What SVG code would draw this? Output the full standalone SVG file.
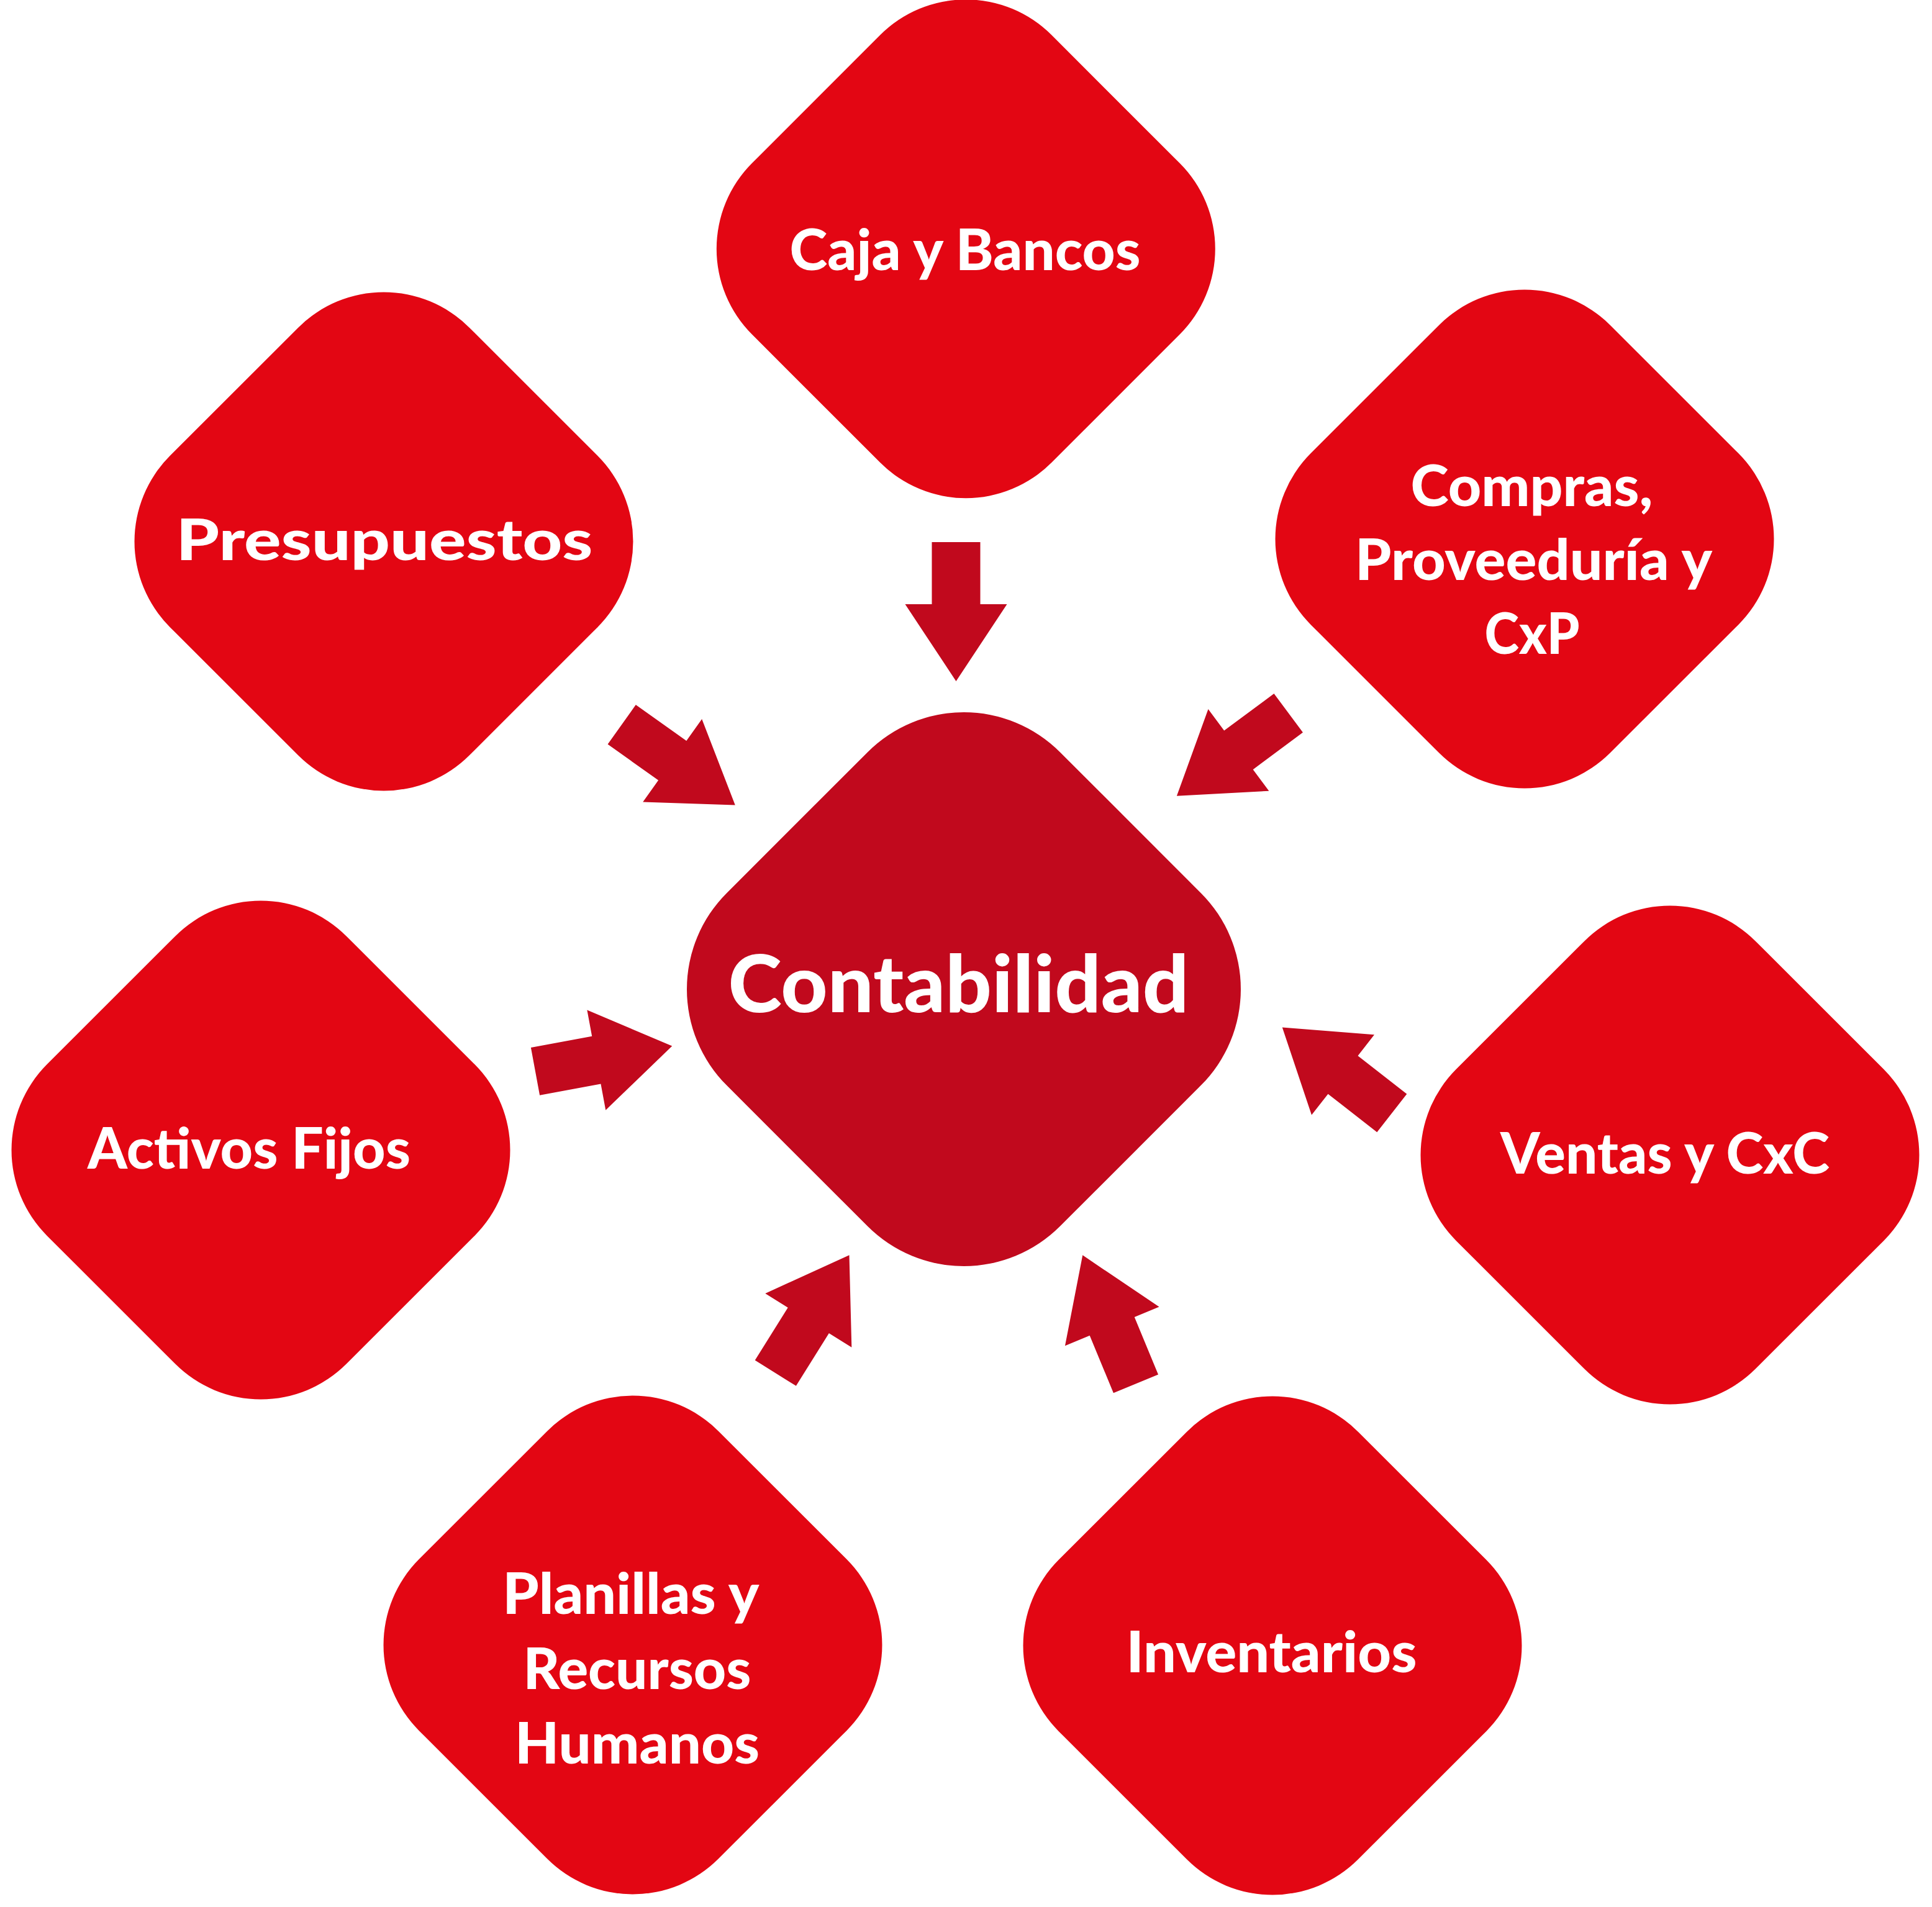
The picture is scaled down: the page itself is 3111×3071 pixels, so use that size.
<svg xmlns="http://www.w3.org/2000/svg" xmlns:xlink="http://www.w3.org/1999/xlink" width="3111" height="3071" viewBox="0 0 3111 3071">
<style>
.node{fill:#E30613;}
.core{fill:#C1091D;}
.arrow{fill:#C1091D;}
.lbl{font-family:Lato,"Open Sans","Liberation Sans",sans-serif;font-weight:900;font-size:92px;fill:#FFFFFF;text-anchor:middle;}
.big{font-size:128px;}
</style>
<defs>
<rect id="dia" x="-341" y="-341" width="682" height="682" rx="195" ry="195"/>
<path id="arr" d="M0,-39 L100,-39 L100,-82 L224,0 L100,82 L100,39 L0,39 Z"/>
</defs>
<rect x="0" y="0" width="3111" height="3071" fill="#FFFFFF"/>
<g id="connectors" class="arrow">
<use xlink:href="#arr" href="#arr" transform="translate(1539.5,873) rotate(90)"/>
<use xlink:href="#arr" href="#arr" transform="translate(1001.2,1166.8) rotate(35.4)"/>
<use xlink:href="#arr" href="#arr" transform="translate(2074.7,1148.3) rotate(143.4)"/>
<use xlink:href="#arr" href="#arr" transform="translate(862,1725.3) rotate(-10.5)"/>
<use xlink:href="#arr" href="#arr" transform="translate(2241.3,1792.5) rotate(-142)"/>
<use xlink:href="#arr" href="#arr" transform="translate(1248.8,2211.2) rotate(-58)"/>
<use xlink:href="#arr" href="#arr" transform="translate(1829,2228.3) rotate(-112.5)"/>
</g>
<g id="contabilidad">
<rect class="core" x="-379.5" y="-379.5" width="759" height="759" rx="219" ry="219" transform="translate(1552,1593) rotate(45)"/>
<text class="lbl big" x="1543.5" y="1630" textLength="742" lengthAdjust="spacingAndGlyphs">Contabilidad</text>
</g>
<g id="caja-bancos">
<use class="node" xlink:href="#dia" href="#dia" transform="translate(1555.3,400.7) rotate(45)"/>
<text class="lbl" x="1554" y="435" textLength="565" lengthAdjust="spacingAndGlyphs">Caja y Bancos</text>
</g>
<g id="presupuestos">
<use class="node" xlink:href="#dia" href="#dia" transform="translate(618,872) rotate(45)"/>
<text class="lbl" x="619" y="902" textLength="671" lengthAdjust="spacingAndGlyphs">Presupuestos</text>
</g>
<g id="compras">
<use class="node" xlink:href="#dia" href="#dia" transform="translate(2455,868) rotate(45)"/>
<text class="lbl" x="2466.5" y="815" textLength="390" lengthAdjust="spacingAndGlyphs">Compras,</text>
<text class="lbl" x="2469.6" y="934" textLength="575" lengthAdjust="spacingAndGlyphs">Proveeduría y</text>
<text class="lbl" x="2467" y="1053" textLength="153" lengthAdjust="spacingAndGlyphs">CxP</text>
</g>
<g id="activos-fijos">
<use class="node" xlink:href="#dia" href="#dia" transform="translate(420,1852) rotate(45)"/>
<text class="lbl" x="401" y="1882" textLength="520" lengthAdjust="spacingAndGlyphs">Activos Fijos</text>
</g>
<g id="ventas-cxc">
<use class="node" xlink:href="#dia" href="#dia" transform="translate(2689,1860) rotate(45)"/>
<text class="lbl" x="2681" y="1890" textLength="530" lengthAdjust="spacingAndGlyphs">Ventas y CxC</text>
</g>
<g id="planillas">
<use class="node" xlink:href="#dia" href="#dia" transform="translate(1019,2649) rotate(45)"/>
<text class="lbl" x="1015.8" y="2599" textLength="413" lengthAdjust="spacingAndGlyphs">Planillas y</text>
<text class="lbl" x="1026" y="2720" textLength="367" lengthAdjust="spacingAndGlyphs">Recursos</text>
<text class="lbl" x="1026" y="2840" textLength="394" lengthAdjust="spacingAndGlyphs">Humanos</text>
</g>
<g id="inventarios">
<use class="node" xlink:href="#dia" href="#dia" transform="translate(2049,2650) rotate(45)"/>
<text class="lbl" x="2047.5" y="2693" textLength="468" lengthAdjust="spacingAndGlyphs">Inventarios</text>
</g>
</svg>
